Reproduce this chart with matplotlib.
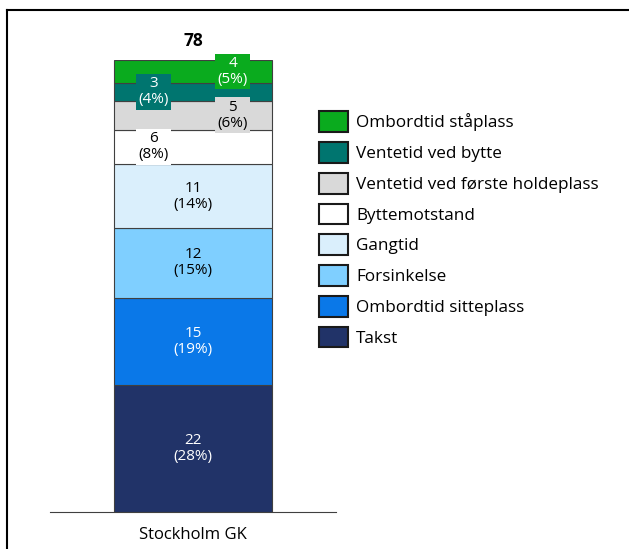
import matplotlib.pyplot as plt
from matplotlib.lines import Line2D
from matplotlib.patches import Patch

plt.rcParams['font.family'] = ['Open Sans', 'DejaVu Sans']

# data, stacked bottom to top
kategori = 'Stockholm GK'
komponenter = ['Takst', 'Ombordtid sitteplass', 'Forsinkelse', 'Gangtid',
               'Byttemotstand', 'Ventetid ved første holdeplass',
               'Ventetid ved bytte', 'Ombordtid ståplass']
verdier = [22, 15, 12, 11, 6, 5, 3, 4]
prosent = [28, 19, 15, 14, 8, 6, 4, 5]
farger = ['#213368', '#0a78e8', '#7fcfff', '#daeffc', '#ffffff', '#d9d9d9',
          '#00756f', '#0aab1e']
tekstfarger = ['white', 'white', 'black', 'black', 'black', 'black', 'white', 'white']
# small segments get their label shifted left/right
forskyvning = [0, 0, 0, 0, -0.25, 0.25, -0.25, 0.25]

W, H = 629, 549
fig = plt.figure(figsize=(W / 100, H / 100), dpi=100)
ax = fig.add_axes([50 / W, (H - 512) / H, 286 / W, 452 / H])

bunn = 0
for v, p, f, tf, dx in zip(verdier, prosent, farger, tekstfarger, forskyvning):
    ax.bar(0, v, bottom=bunn, width=1.0, color=f, edgecolor='#404040', linewidth=0.8)
    bbox = None
    if dx != 0:
        bbox = dict(boxstyle='square,pad=0.15', facecolor=f, edgecolor='none')
    ax.text(dx, bunn + v / 2, f'{v}\n({p}%)', ha='center', va='center',
            fontsize=11, color=tf, linespacing=1.1, bbox=bbox)
    bunn += v

ax.text(0, bunn + 1.7, str(sum(verdier)), ha='center', va='bottom',
        fontsize=12.5, fontweight='bold')

ax.set_xlim(-0.9, 0.9)
ax.set_ylim(0, sum(verdier))
ax.set_xticks([0])
ax.set_xticklabels([kategori], fontsize=12)
ax.tick_params(axis='x', length=0, pad=11)
ax.set_yticks([])
for s in ['top', 'left', 'right']:
    ax.spines[s].set_visible(False)
ax.spines['bottom'].set_color('#404040')

handles = [Patch(facecolor=f, edgecolor='#1a1a1a', linewidth=1.5) for f in farger]
fig.legend(handles[::-1], komponenter[::-1], loc='upper left',
           bbox_to_anchor=(304 / W, 1 - 96 / H), frameon=False, fontsize=12.3,
           handlelength=1.7, handleheight=1.5, labelspacing=0.58, handletextpad=0.45)

# frame lines of the original picture
fig.add_artist(Line2D([7 / W, 1], [1 - 10 / H, 1 - 10 / H], color='black', linewidth=1.5))
fig.add_artist(Line2D([7 / W, 7 / W], [0, 1 - 10 / H], color='black', linewidth=1.5))

fig.savefig('out.png', dpi=100)
